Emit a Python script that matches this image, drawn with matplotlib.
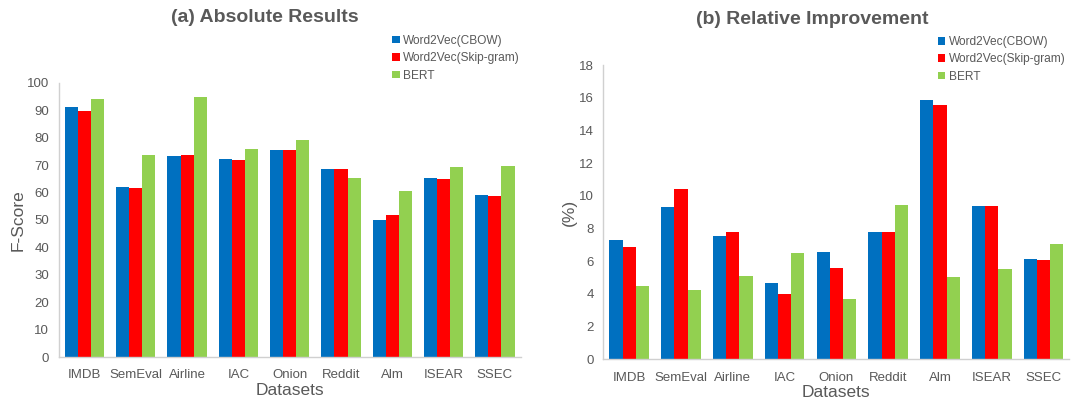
import matplotlib.pyplot as plt
import numpy as np

plt.rcParams['font.family'] = ['Liberation Sans', 'DejaVu Sans']

datasets = ["IMDB", "SemEval", "Airline", "IAC", "Onion", "Reddit", "Alm", "ISEAR", "SSEC"]
models = ["Word2Vec(CBOW)", "Word2Vec(Skip-gram)", "BERT"]
colors = ["#0070C0", "#FF0000", "#92D050"]

# absolute F-scores
cbow_abs = [91.1, 62.0, 73.2, 72.3, 75.5, 68.5, 50.0, 65.3, 59.1]
skip_abs = [89.8, 61.6, 73.6, 71.9, 75.5, 68.6, 51.8, 64.9, 58.8]
bert_abs = [94.2, 73.7, 94.8, 75.8, 79.1, 65.3, 60.6, 69.2, 69.7]

# relative improvement in %
cbow_rel = [7.30, 9.31, 7.54, 4.65, 6.56, 7.79, 15.86, 9.38, 6.15]
skip_rel = [6.85, 10.40, 7.77, 4.01, 5.58, 7.80, 15.57, 9.38, 6.09]
bert_rel = [4.50, 4.22, 5.11, 6.48, 3.67, 9.46, 5.03, 5.52, 7.05]

text_col = "#595959"
axis_col = "#D0D0D0"

fig = plt.figure(figsize=(10.89, 4.0), dpi=100)
ax1 = fig.add_axes([0.054, 0.1075, 0.424, 0.685])
ax2 = fig.add_axes([0.554, 0.1017, 0.428, 0.7358])

x = np.arange(len(datasets))
w = 0.255


def draw(ax, series, ylim, step, ylabel, title, title_pos, leg_anchor):
    for i, (vals, c) in enumerate(zip(series, colors)):
        ax.bar(x + (i - 1) * w, vals, w, color=c, label=models[i])
    ax.set_xlim(-0.5, len(datasets) - 0.5)
    ax.set_ylim(0, ylim)
    ax.set_yticks(np.arange(0, ylim + step / 2, step))
    ax.set_xticks(x)
    ax.set_xticklabels(datasets)
    ax.tick_params(length=0, labelsize=9.5, colors=text_col)
    ax.tick_params(axis="x", pad=9)
    ax.tick_params(axis="y", pad=7)
    for s in ["top", "right"]:
        ax.spines[s].set_visible(False)
    for s in ["left", "bottom"]:
        ax.spines[s].set_color(axis_col)
        ax.spines[s].set_linewidth(1.0)
    ax.set_xlabel("Datasets", fontsize=12.5, color=text_col, labelpad=1)
    ax.set_ylabel(ylabel, fontsize=12.5, color=text_col, labelpad=1)
    fig.text(title_pos[0], title_pos[1], title, fontsize=14, fontweight="bold",
             color=text_col, ha="center", va="center")
    leg = ax.legend(loc="upper left", bbox_to_anchor=leg_anchor,
                    bbox_transform=fig.transFigure, frameon=False,
                    fontsize=8.6, handlelength=0.6, handleheight=0.6,
                    handletextpad=0.3, labelspacing=0.45, borderaxespad=0)
    for t in leg.get_texts():
        t.set_color(text_col)


draw(ax1, [cbow_abs, skip_abs, bert_abs], 100, 10, "F-Score",
     "(a) Absolute Results", (0.243, 0.955), (0.356, 0.925))
draw(ax2, [cbow_rel, skip_rel, bert_rel], 18, 2, "(%)",
     "(b) Relative Improvement", (0.746, 0.952), (0.857, 0.922))

fig.savefig("out.png", dpi=100)
